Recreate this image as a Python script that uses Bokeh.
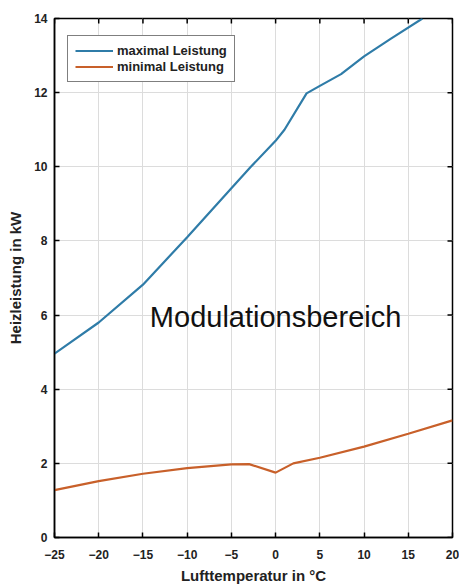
import math
from bokeh.plotting import figure
from bokeh.models import LinearAxis, Legend, LegendItem, Range1d, FixedTicker, Label
from bokeh.embed import file_html
from bokeh.resources import INLINE

# Data
temp_max = [-25, -20, -15, -10, -5, -2.8, 0, 1, 3.5, 4.9, 7.4, 10, 13, 16.6]
power_max = [4.96, 5.8, 6.82, 8.1, 9.42, 10.0, 10.7, 11.0, 11.98, 12.17, 12.5, 12.98, 13.45, 14.0]

temp_min = [-25, -20, -15, -10, -5, -3, 0, 2, 5, 10, 15, 20]
power_min = [1.28, 1.52, 1.72, 1.87, 1.97, 1.98, 1.75, 2.0, 2.15, 2.45, 2.8, 3.16]

x_ticks = [-25, -20, -15, -10, -5, 0, 5, 10, 15, 20]
y_ticks = [0, 2, 4, 6, 8, 10, 12, 14]
x_lim = (-25, 20)
y_lim = (0, 14)

series_labels = ["maximal Leistung", "minimal Leistung"]
region_label = "Modulationsbereich"
x_label = "Lufttemperatur in °C"
y_label = "Heizleistung in kW"

FONT = "Liberation Sans"

p = figure(output_backend="svg", toolbar_location=None,
           frame_width=398, frame_height=519,
           min_border_left=54, min_border_right=7, min_border_top=18, min_border_bottom=48,
           x_range=Range1d(*x_lim), y_range=Range1d(*y_lim))
p.xaxis.visible = False
p.yaxis.visible = False
p.outline_line_color = "black"
p.outline_line_width = 1.5
p.background_fill_color = "white"
p.border_fill_color = "white"

def style(ax, ticks):
    ax.ticker = FixedTicker(ticks=ticks)
    ax.major_tick_in = 5
    ax.major_tick_out = 0
    ax.minor_tick_line_color = None
    ax.axis_line_color = "black"
    ax.axis_line_width = 1.5
    ax.major_tick_line_width = 1.5
    ax.major_label_text_font = FONT
    ax.major_label_text_font_style = "bold"
    ax.major_label_text_font_size = "12px"
    ax.major_label_text_color = "#222222"
    ax.axis_label_text_font = FONT
    ax.axis_label_text_font_style = "bold"
    ax.axis_label_text_font_size = "15px"
    ax.axis_label_text_color = "#222222"

xb = LinearAxis(axis_label=x_label)
style(xb, x_ticks)
xb.major_label_standoff = 12
xb.axis_label_standoff = 5
p.add_layout(xb, "below")
yl = LinearAxis(axis_label=y_label)
style(yl, y_ticks)
yl.major_label_standoff = 7
yl.axis_label_standoff = 7
p.add_layout(yl, "left")

# inward ticks on the top and right edges of the box
p.ray(x=x_ticks, y=[y_lim[1]] * len(x_ticks), length=5, length_units="screen",
      angle=-math.pi / 2, line_color="black", line_width=1.5)
p.ray(x=[x_lim[1]] * len(y_ticks), y=y_ticks, length=5, length_units="screen",
      angle=math.pi, line_color="black", line_width=1.5)

p.xgrid.ticker = FixedTicker(ticks=x_ticks)
p.ygrid.ticker = FixedTicker(ticks=y_ticks)
p.grid.grid_line_color = "#dcdcdc"
p.grid.grid_line_width = 1

r1 = p.line(temp_max, power_max, line_color="#2f7ca8", line_width=2.2)
r2 = p.line(temp_min, power_min, line_color="#c8602a", line_width=2.2)

legend = Legend(items=[LegendItem(label=series_labels[0], renderers=[r1]),
                       LegendItem(label=series_labels[1], renderers=[r2])],
                location=(13, 455), orientation="vertical")
legend.label_text_font = FONT
legend.label_text_font_style = "bold"
legend.label_text_font_size = "13px"
legend.label_text_color = "#222222"
legend.glyph_width = 38
legend.glyph_height = 15
legend.label_height = 15
legend.label_standoff = 4
legend.spacing = 1
legend.padding = 7
legend.margin = 0
legend.border_line_color = "black"
legend.border_line_width = 1.5
legend.background_fill_alpha = 1
p.add_layout(legend, "center")

p.add_layout(Label(x=0, y=5.95, text=region_label, text_font=FONT,
                   text_font_size="29px", text_align="center", text_baseline="middle",
                   text_color="#111111"))

open("out.html", "w").write(file_html(p, INLINE))
